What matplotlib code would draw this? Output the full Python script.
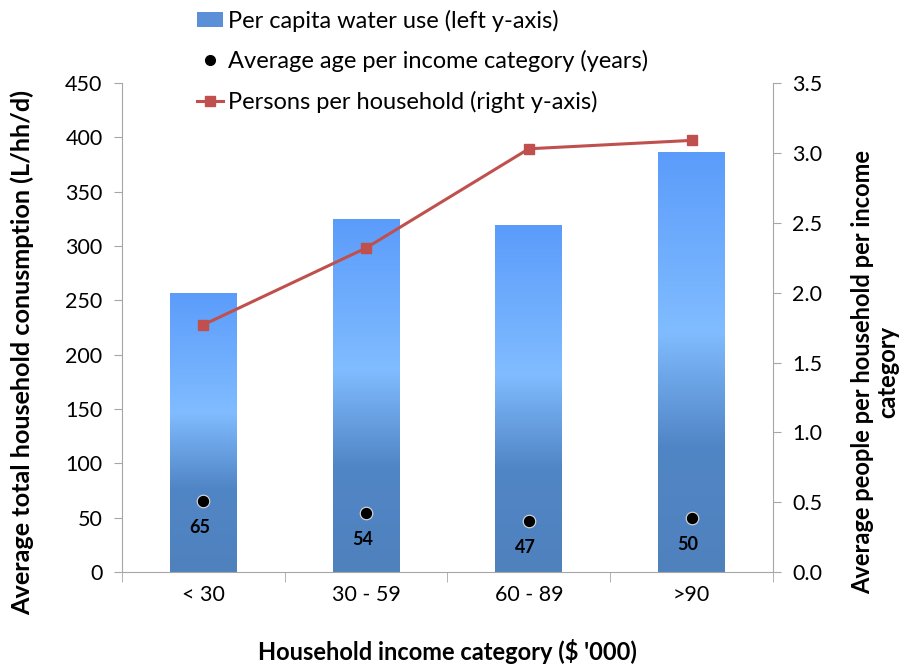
import matplotlib
matplotlib.use("Agg")
import matplotlib.pyplot as plt
import numpy as np
from matplotlib.colors import LinearSegmentedColormap
from matplotlib.patches import Rectangle
from matplotlib.lines import Line2D

categories = ["< 30", "30 - 59", "60 - 89", ">90"]
water_use = [257, 325, 319, 387]
avg_age = [65, 54, 47, 50]
persons = [1.77, 2.32, 3.03, 3.09]

plt.rcParams['font.family'] = ['Lato', 'DejaVu Sans']

fig = plt.figure(figsize=(9.04, 6.65), dpi=100)
ax = fig.add_axes([0.135, 0.1398, 0.72, 0.7352])
ax2 = ax.twinx()

x = np.arange(len(categories))
bw = 0.41
grad = LinearSegmentedColormap.from_list(
    "g", [(0.0, "#4F81BD"), (0.30, "#5186C6"), (0.57, "#80BCFF"), (1.0, "#5B9CFB")])
bars = ax.bar(x, water_use, width=bw, color="none", edgecolor="none", zorder=2)
gvals = np.linspace(0, 1, 256).reshape(-1, 1)
for b in bars:
    x0, y0, w, h = b.get_x(), b.get_y(), b.get_width(), b.get_height()
    im = ax.imshow(gvals, cmap=grad, origin="lower", aspect="auto",
                   extent=[x0, x0 + w, y0, y0 + h], zorder=2)
    im.set_clip_path(b)

ax.set_xlim(-0.5, len(categories) - 0.5)
ax.set_ylim(0, 450)
ax.set_yticks(np.arange(0, 451, 50))
ax2.set_ylim(0, 3.5)
ax2.set_yticks(np.arange(0, 3.51, 0.5))
ax2.set_yticklabels([f"{v:.1f}" for v in np.arange(0, 3.51, 0.5)])

# age dots
ax.plot(x, avg_age, linestyle="none", marker="o", markersize=9,
        markerfacecolor="black", markeredgecolor="#DDDDDD", markeredgewidth=0.8, zorder=4)
for xi, a in zip(x, avg_age):
    ax.annotate(str(a), (xi, a), xytext=(-2.5, -19), textcoords="offset points",
                ha="center", va="center", fontsize=13, fontweight="bold", zorder=5)

# persons line
ax2.plot(x, persons, color="#C0504D", linewidth=2.2, marker="s", markersize=7,
         markerfacecolor="#C0504D", markeredgecolor="#C0504D", zorder=3)

spine_c = "#A6A6A6"
for a in (ax, ax2):
    a.spines['top'].set_visible(False)
    for s in ('left', 'right', 'bottom'):
        a.spines[s].set_color(spine_c)
ax.spines['right'].set_visible(False)
ax2.spines['left'].set_visible(False)
ax2.spines['bottom'].set_visible(False)

ax.set_xticks(x)
ax.set_xticklabels(categories, fontsize=15.5)
ax.set_xticks(np.arange(-0.5, len(categories) - 0.4, 1), minor=True)
ax.tick_params(axis="x", which="major", length=0, pad=9)
ax.tick_params(axis="x", which="minor", length=7, color=spine_c, direction="out")
ax.tick_params(axis="y", length=6, color=spine_c, labelsize=15.5, pad=8)
ax2.tick_params(axis="y", length=6, color=spine_c, labelsize=15.5, pad=8)

ax.set_xlabel("Household income category ($ '000)", fontsize=17, fontweight="bold")
ax.xaxis.set_label_coords(0.5, -0.136)
ax.set_ylabel("Average total household conusmption (L/hh/d)", fontsize=18.2, fontweight="bold")
ax.yaxis.set_label_coords(-0.135, 0.45)
ax2.set_ylabel("Average people per household per income\ncategory", fontsize=17,
               fontweight="bold", linespacing=1.1, rotation=90)
ax2.yaxis.set_label_coords(1.12, 0.41)

handles = [
    Rectangle((0, 0), 1, 1, facecolor="#5B8FD8", edgecolor="none"),
    Line2D([], [], linestyle="none", marker="o", markersize=7, color="black"),
    Line2D([], [], color="#C0504D", linewidth=2.2, marker="s", markersize=7),
]
labels = ["Per capita water use (left y-axis)",
          "Average age per income category (years)",
          "Persons per household (right y-axis)"]
fig.legend(handles, labels, loc="upper left", bbox_to_anchor=(0.208, 1.0),
           frameon=False, fontsize=17, handlelength=1.1, handletextpad=0.2,
           labelspacing=0.78, borderaxespad=0, handleheight=0.6)

fig.savefig("out.png", dpi=100)
